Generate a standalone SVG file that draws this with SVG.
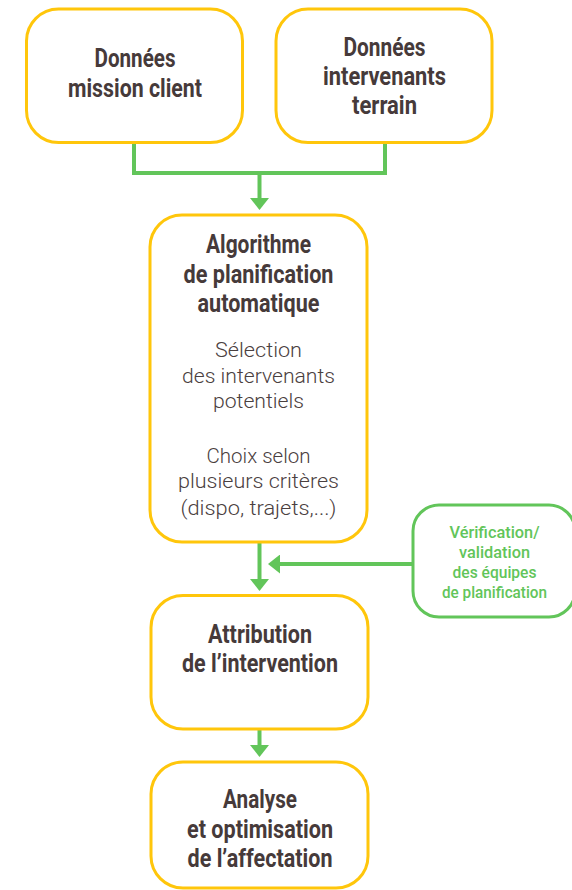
<svg xmlns="http://www.w3.org/2000/svg" width="572" height="890" viewBox="0 0 572 890">
<defs>
<style>
.box{fill:#ffffff;stroke:#FFC60B;stroke-width:3}
.gbox{fill:#ffffff;stroke:#62C55A;stroke-width:3}
.ln{fill:none;stroke:#62C55A;stroke-width:4}
.t{font-family:Roboto,"Liberation Sans",sans-serif;font-weight:700;font-size:25px;fill:#463A3A;text-anchor:middle}
.n{font-family:Roboto,"Liberation Sans",sans-serif;font-weight:300;font-size:20px;fill:#4A4040;text-anchor:middle}
.g{font-family:Roboto,"Liberation Sans",sans-serif;font-weight:500;font-size:17px;fill:#62C55A;text-anchor:middle}
</style>
<marker id="arr" viewBox="0 0 12 19" refX="0" refY="9.5" markerWidth="12" markerHeight="19" markerUnits="userSpaceOnUse" orient="auto">
<path d="M0 0 L12 9.5 L0 19 Z" fill="#62C55A"/>
</marker>
</defs>
<g id="connectors">
<path class="ln" d="M134 143 V173 H385 V143"/>
<path class="ln" d="M259.5 173 V198" marker-end="url(#arr)"/>
<path class="ln" d="M259.5 542 V579" marker-end="url(#arr)"/>
<path class="ln" d="M413 564 H280" marker-end="url(#arr)"/>
<path class="ln" d="M259.5 729 V745" marker-end="url(#arr)"/>
</g>
<g id="n1">
<rect class="box" x="26.5" y="9" width="216" height="133.5" rx="32"/>
<text class="t" x="135" y="66.5" textLength="81" lengthAdjust="spacingAndGlyphs">Données</text>
<text class="t" x="135" y="96.5" textLength="134" lengthAdjust="spacingAndGlyphs">mission client</text>
</g>
<g id="n2">
<rect class="box" x="276" y="9" width="216" height="133.5" rx="32"/>
<text class="t" x="384.5" y="55.5" textLength="82" lengthAdjust="spacingAndGlyphs">Données</text>
<text class="t" x="384.5" y="85" textLength="123" lengthAdjust="spacingAndGlyphs">intervenants</text>
<text class="t" x="384.5" y="113.5" textLength="65" lengthAdjust="spacingAndGlyphs">terrain</text>
</g>
<g id="n3">
<rect class="box" x="150" y="215" width="217" height="327" rx="32"/>
<text class="t" x="258.5" y="253" textLength="105" lengthAdjust="spacingAndGlyphs">Algorithme</text>
<text class="t" x="258.5" y="283" textLength="150" lengthAdjust="spacingAndGlyphs">de planification</text>
<text class="t" x="258.5" y="312" textLength="122" lengthAdjust="spacingAndGlyphs">automatique</text>
<text class="n" x="258.5" y="357" textLength="87" lengthAdjust="spacingAndGlyphs">Sélection</text>
<text class="n" x="258.5" y="383" textLength="153" lengthAdjust="spacingAndGlyphs">des intervenants</text>
<text class="n" x="258.5" y="408" textLength="91" lengthAdjust="spacingAndGlyphs">potentiels</text>
<text class="n" x="258.5" y="463" textLength="104" lengthAdjust="spacingAndGlyphs">Choix selon</text>
<text class="n" x="258.5" y="488" textLength="161" lengthAdjust="spacingAndGlyphs">plusieurs critères</text>
<text class="n" x="258.5" y="515" textLength="156" lengthAdjust="spacingAndGlyphs">(dispo, trajets,...)</text>
</g>
<g id="n4">
<rect class="gbox" x="413" y="505" width="162" height="112" rx="26"/>
<text class="g" x="494.5" y="538" textLength="90" lengthAdjust="spacingAndGlyphs">Vérification/</text>
<text class="g" x="494.5" y="558" textLength="71" lengthAdjust="spacingAndGlyphs">validation</text>
<text class="g" x="494.5" y="578" textLength="84" lengthAdjust="spacingAndGlyphs">des équipes</text>
<text class="g" x="494.5" y="598" textLength="105" lengthAdjust="spacingAndGlyphs">de planification</text>
</g>
<g id="n5">
<rect class="box" x="151" y="595.5" width="217" height="133.5" rx="32"/>
<text class="t" x="260" y="643" textLength="104" lengthAdjust="spacingAndGlyphs">Attribution</text>
<text class="t" x="260" y="672" textLength="156" lengthAdjust="spacingAndGlyphs">de l’intervention</text>
</g>
<g id="n6">
<rect class="box" x="151" y="762" width="217" height="126" rx="32"/>
<text class="t" x="260" y="808" textLength="74" lengthAdjust="spacingAndGlyphs">Analyse</text>
<text class="t" x="260" y="838" textLength="146" lengthAdjust="spacingAndGlyphs">et optimisation</text>
<text class="t" x="260" y="867" textLength="145" lengthAdjust="spacingAndGlyphs">de l’affectation</text>
</g>
</svg>
